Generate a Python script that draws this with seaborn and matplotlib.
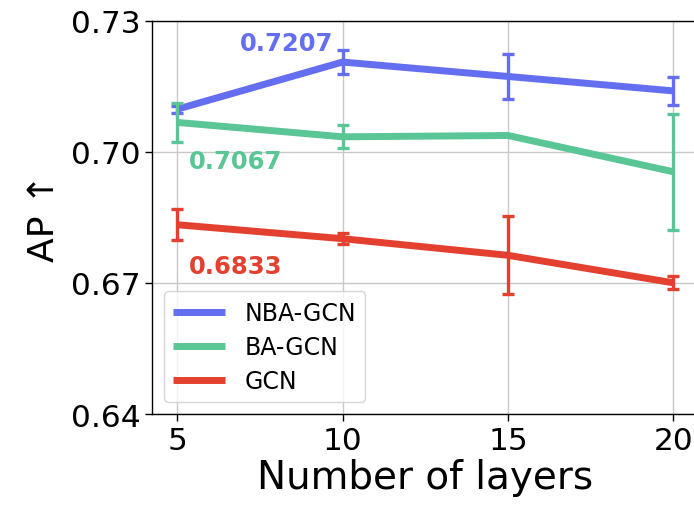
import matplotlib
matplotlib.use("Agg")
import matplotlib.pyplot as plt
import seaborn as sns
import pandas as pd

layers = [5, 10, 15, 20]
methods = ["NBA-GCN", "BA-GCN", "GCN"]
nba_gcn = [0.7097, 0.7205, 0.7172, 0.7139]
nba_gcn_err = [0.0008, 0.0028, 0.0051, 0.0032]
ba_gcn = [0.7067, 0.7034, 0.7037, 0.6954]
ba_gcn_err = [0.0045, 0.0026, 0.0, 0.0132]
gcn = [0.6833, 0.6801, 0.6763, 0.6700]
gcn_err = [0.0035, 0.0012, 0.0089, 0.0015]
annotations = ["0.7207", "0.7067", "0.6833"]
yticks = [0.64, 0.67, 0.70, 0.73]
xticks = [5, 10, 15, 20]

colors = {"NBA-GCN": "#636EF0", "BA-GCN": "#5AC595", "GCN": "#E4402F"}

sns.set_theme(style="whitegrid", rc={
    "axes.edgecolor": "black",
    "axes.linewidth": 1.0,
    "axes.labelcolor": "black",
    "text.color": "black",
    "grid.color": "#c8c8c8",
    "grid.linewidth": 1.0,
    "xtick.bottom": True,
    "ytick.left": True,
    "xtick.major.size": 5,
    "ytick.major.size": 5,
    "xtick.color": "black",
    "ytick.color": "black",
})
plt.rcParams["font.family"] = ["DejaVu Sans"]

rows = []
for name, vals in zip(methods, [nba_gcn, ba_gcn, gcn]):
    for x, v in zip(layers, vals):
        rows.append({"layers": x, "AP": v, "method": name})
df = pd.DataFrame(rows)

fig = plt.figure(figsize=(6.94, 5.06), dpi=100)
ax = fig.add_axes([0.2193, 0.1798, 0.7869, 0.7777])

sns.lineplot(data=df, x="layers", y="AP", hue="method", hue_order=methods,
             palette=colors, linewidth=5, ax=ax, legend=True,
             solid_capstyle="butt")

for name, vals, errs in zip(methods, [nba_gcn, ba_gcn, gcn],
                            [nba_gcn_err, ba_gcn_err, gcn_err]):
    ax.errorbar(layers, vals, yerr=errs, fmt="none", ecolor=colors[name],
                elinewidth=2.4, capsize=4.5, capthick=2.4, zorder=3)

ax.text(8.32, 0.7249, annotations[0], color=colors["NBA-GCN"], fontsize=17.5,
        fontweight="bold", ha="center", va="center")
ax.text(6.78, 0.6978, annotations[1], color=colors["BA-GCN"], fontsize=17.5,
        fontweight="bold", ha="center", va="center")
ax.text(6.78, 0.6738, annotations[2], color=colors["GCN"], fontsize=17.5,
        fontweight="bold", ha="center", va="center")

ax.set_xlim(4.25, 20.75)
ax.set_ylim(0.64, 0.73)
ax.set_xticks(xticks)
ax.set_yticks(yticks)
ax.set_yticklabels([f"{t:.2f}" for t in yticks])
ax.tick_params(axis="both", labelsize=22.5, width=1)
ax.set_xlabel("Number of layers", fontsize=28, labelpad=2)
ax.set_ylabel("AP \u2191", fontsize=26, labelpad=7)
ax.spines["right"].set_visible(False)

leg = ax.legend(loc="lower left", fontsize=17, handlelength=2.2,
                labelspacing=0.42, borderaxespad=0.5, frameon=True,
                framealpha=0.8)
for line in leg.get_lines():
    line.set_linewidth(5)
    line.set_solid_capstyle("butt")

fig.savefig("out.png", dpi=100)
